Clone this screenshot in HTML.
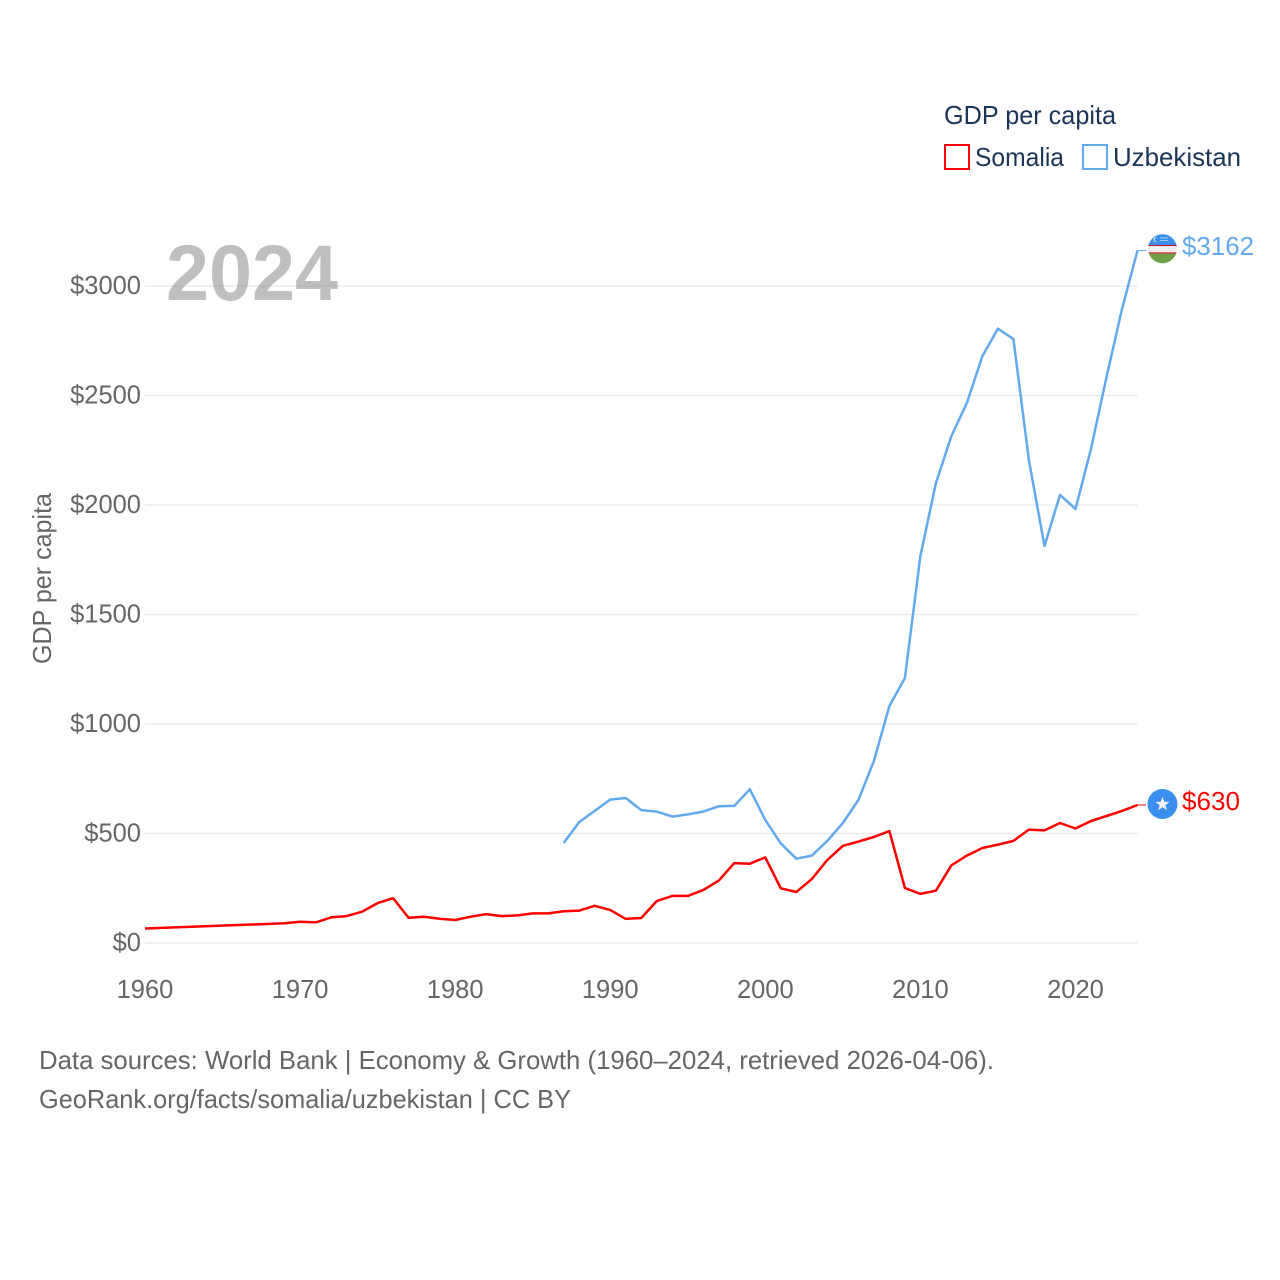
<!DOCTYPE html>
<html lang="en">
<head>
<meta charset="utf-8">
<title>GDP per capita: Somalia and Uzbekistan</title>
<style>
html,body{margin:0;padding:0;background:#fff;width:1280px;height:1280px;overflow:hidden}
svg{display:block}
text{font-family:"Liberation Sans",sans-serif}
.tick{font-size:25.5px;fill:#666}
.legend{font-size:26px;fill:#1a3557}
.foot{font-size:26px;fill:#666}
</style>
</head>
<body>
<svg id="chart" xmlns="http://www.w3.org/2000/svg" width="1280" height="1280" viewBox="0 0 1280 1280">
  <defs>
    <clipPath id="uz-clip"><circle cx="1162.5" cy="248.7" r="14.5"/></clipPath>
  </defs>
  <rect x="0" y="0" width="1280" height="1280" fill="#fff"/>

  <g id="grid"></g>
  <g id="y-ticks"></g>
  <g id="x-ticks"></g>

  <text x="166" y="300" font-size="79" font-weight="bold" fill="#808080" fill-opacity="0.5" textLength="172" lengthAdjust="spacingAndGlyphs">2024</text>

  <text transform="translate(51,664) rotate(-90)" x="0" y="0" font-size="26" fill="#666" textLength="171" lengthAdjust="spacingAndGlyphs">GDP per capita</text>

  <g id="series"></g>

  <g clip-path="url(#uz-clip)">
    <rect x="1148" y="234" width="29" height="11" fill="#3a8fe8"/>
    <rect x="1148" y="245" width="29" height="1.2" fill="#ce1126"/>
    <rect x="1148" y="246.2" width="29" height="6.2" fill="#f0f0f0"/>
    <rect x="1148" y="252.4" width="29" height="1.2" fill="#ce1126"/>
    <rect x="1148" y="253.6" width="29" height="10" fill="#6fa045"/>
    <circle cx="1156" cy="239.5" r="2.4" fill="#f0f0f0"/>
    <circle cx="1157" cy="239.5" r="2.2" fill="#3a8fe8"/>
    <rect x="1160" y="237.5" width="8" height="0.8" fill="#b9d4f5"/>
    <rect x="1160" y="240" width="8" height="0.8" fill="#b9d4f5"/>
  </g>
  <g>
    <circle cx="1162.5" cy="804" r="15" fill="#3a8ff0"/>
    <polygon points="1162.5,796.8 1164.3,801.8 1169.6,801.9 1165.4,805.2 1166.9,810.3 1162.5,807.3 1158.1,810.3 1159.6,805.2 1155.4,801.9 1160.7,801.8" fill="#f0f0f0"/>
  </g>

  <text id="uz-value" x="1182" y="255" font-size="26" fill="#63a9ee" textLength="72" lengthAdjust="spacingAndGlyphs">$3162</text>
  <text id="so-value" x="1182" y="810" font-size="26" fill="#ff0000" textLength="58" lengthAdjust="spacingAndGlyphs">$630</text>

  <g>
    <text class="legend" x="944" y="124" textLength="172" lengthAdjust="spacingAndGlyphs">GDP per capita</text>
    <rect x="945" y="145" width="24" height="24" fill="none" stroke="#ff0000" stroke-width="2"/>
    <text class="legend" x="975" y="166" textLength="89" lengthAdjust="spacingAndGlyphs">Somalia</text>
    <rect x="1083" y="145" width="24" height="24" fill="none" stroke="#63a9ee" stroke-width="2"/>
    <text class="legend" x="1113" y="166" textLength="128" lengthAdjust="spacingAndGlyphs">Uzbekistan</text>
  </g>

  <text class="foot" x="39" y="1069" textLength="955" lengthAdjust="spacingAndGlyphs">Data sources: World Bank | Economy &amp; Growth (1960–2024, retrieved 2026-04-06).</text>
  <text class="foot" x="39" y="1108" textLength="532" lengthAdjust="spacingAndGlyphs">GeoRank.org/facts/somalia/uzbekistan | CC BY</text>
</svg>
<script>
const yTickValues = [0, 500, 1000, 1500, 2000, 2500, 3000];
const yTickLabels = ["$0", "$500", "$1000", "$1500", "$2000", "$2500", "$3000"];
const xTickValues = [1960, 1970, 1980, 1990, 2000, 2010, 2020];
const xTickLabels = ["1960", "1970", "1980", "1990", "2000", "2010", "2020"];

const somaliaYears = [1960, 1969, 1970, 1971, 1972, 1973, 1974, 1975, 1976, 1977, 1978, 1979, 1980, 1981, 1982, 1983, 1984, 1985, 1986, 1987, 1988, 1989, 1990, 1991, 1992, 1993, 1994, 1995, 1996, 1997, 1998, 1999, 2000, 2001, 2002, 2003, 2004, 2005, 2006, 2007, 2008, 2009, 2010, 2011, 2012, 2013, 2014, 2015, 2016, 2017, 2018, 2019, 2020, 2021, 2022, 2023, 2024];
const somaliaValues = [66, 90, 97, 94, 117, 123, 143, 182, 205, 115, 120, 111, 105, 120, 132, 123, 126, 135, 135, 145, 148, 170, 151, 110, 114, 192, 215, 215, 242, 285, 365, 362, 391, 250, 233, 292, 379, 444, 463, 484, 511, 251, 224, 239, 355, 399, 434, 449, 466, 518, 514, 548, 523, 557, 580, 603, 630];

const uzbekistanYears = [1987, 1988, 1989, 1990, 1991, 1992, 1993, 1994, 1995, 1996, 1997, 1998, 1999, 2000, 2001, 2002, 2003, 2004, 2005, 2006, 2007, 2008, 2009, 2010, 2011, 2012, 2013, 2014, 2015, 2016, 2017, 2018, 2019, 2020, 2021, 2022, 2023, 2024];
const uzbekistanValues = [457, 552, 603, 655, 662, 607, 600, 577, 587, 600, 624, 626, 702, 562, 455, 385, 399, 466, 548, 653, 831, 1082, 1210, 1767, 2100, 2315, 2466, 2680, 2805, 2758, 2205, 1813, 2046, 1982, 2256, 2584, 2895, 3162];

const NS = 'http://www.w3.org/2000/svg';
const plotLeft = 145;
const plotRight = 1137.5;
function xScale(year) { return plotLeft + (year - 1960) * (plotRight - plotLeft) / 64; }
function yScale(value) { return 943 - value * 0.219; }

const grid = document.getElementById('grid');
const yTicks = document.getElementById('y-ticks');
const xTicks = document.getElementById('x-ticks');
const seriesGroup = document.getElementById('series');

yTickValues.forEach(function (v, i) {
  const line = document.createElementNS(NS, 'line');
  
  
  line.setAttribute('x1', plotLeft);
  line.setAttribute('x2', plotRight);
  line.setAttribute('y1', yScale(v));
  line.setAttribute('y2', yScale(v));
  line.setAttribute('stroke', '#e8e8e8');
  line.setAttribute('stroke-width', '1.3');
  grid.appendChild(line);

  const label = document.createElementNS(NS, 'text');
  
  
  label.setAttribute('class', 'tick');
  label.setAttribute('x', 141);
  label.setAttribute('y', yScale(v) + 8);
  label.setAttribute('text-anchor', 'end');
  label.textContent = yTickLabels[i];
  yTicks.appendChild(label);
});

xTickValues.forEach(function (v, i) {
  const label = document.createElementNS(NS, 'text');
  
  
  label.setAttribute('class', 'tick');
  label.setAttribute('x', xScale(v));
  label.setAttribute('y', 998);
  label.setAttribute('text-anchor', 'middle');
  label.textContent = xTickLabels[i];
  xTicks.appendChild(label);
});

function linePoints(years, values) {
  return years.map(function (y, i) {
    return xScale(y).toFixed(1) + ',' + yScale(values[i]).toFixed(1);
  });
}

const somaliaPts = linePoints(somaliaYears, somaliaValues);
const somaliaEnd = yScale(somaliaValues[somaliaValues.length - 1]).toFixed(1);
const somaliaLine = document.createElementNS(NS, 'polyline');


somaliaLine.setAttribute('points', somaliaPts.join(' '));
somaliaLine.setAttribute('fill', 'none');
somaliaLine.setAttribute('stroke', '#ff0000');
somaliaLine.setAttribute('stroke-width', '2.5');
somaliaLine.setAttribute('stroke-linejoin', 'round');
seriesGroup.appendChild(somaliaLine);

const somaliaLeader = document.createElementNS(NS, 'line');


somaliaLeader.setAttribute('x1', plotRight);
somaliaLeader.setAttribute('x2', 1146);
somaliaLeader.setAttribute('y1', somaliaEnd);
somaliaLeader.setAttribute('y2', somaliaEnd);
somaliaLeader.setAttribute('stroke', '#ff0000');
somaliaLeader.setAttribute('stroke-width', '1');
seriesGroup.appendChild(somaliaLeader);

const uzbekistanPts = linePoints(uzbekistanYears, uzbekistanValues);
const uzbekistanEnd = yScale(uzbekistanValues[uzbekistanValues.length - 1]).toFixed(1);
const uzbekistanLine = document.createElementNS(NS, 'polyline');


uzbekistanLine.setAttribute('points', uzbekistanPts.join(' '));
uzbekistanLine.setAttribute('fill', 'none');
uzbekistanLine.setAttribute('stroke', '#63a9ee');
uzbekistanLine.setAttribute('stroke-width', '2.5');
uzbekistanLine.setAttribute('stroke-linejoin', 'round');
seriesGroup.appendChild(uzbekistanLine);

const uzbekistanLeader = document.createElementNS(NS, 'line');


uzbekistanLeader.setAttribute('x1', plotRight);
uzbekistanLeader.setAttribute('x2', 1146);
uzbekistanLeader.setAttribute('y1', uzbekistanEnd);
uzbekistanLeader.setAttribute('y2', uzbekistanEnd);
uzbekistanLeader.setAttribute('stroke', '#63a9ee');
uzbekistanLeader.setAttribute('stroke-width', '1');
seriesGroup.appendChild(uzbekistanLeader);
</script>
</body>
</html>
